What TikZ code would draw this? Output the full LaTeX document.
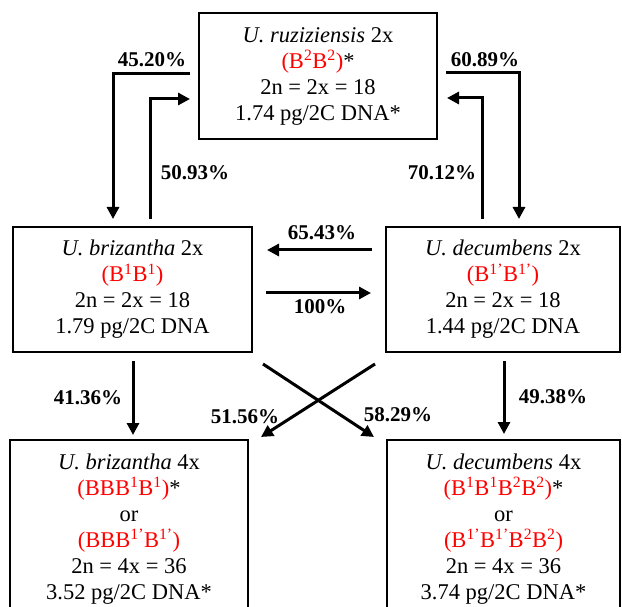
\documentclass[tikz,border=0pt]{standalone}
\usepackage{fontspec}
\setmainfont{Liberation Serif}
\usetikzlibrary{arrows.meta,calc}
\definecolor{gred}{RGB}{255,0,0}
\newcommand{\rd}[1]{\textcolor{gred}{#1}}
\newcommand{\sps}[1]{\textsuperscript{#1}}
\tikzset{
  box/.style={draw, line width=2pt, align=center, inner sep=0pt,
    font=\fontsize{22.5}{26}\selectfont},
  arr/.style={line width=3pt, -{Triangle[length=12pt,width=12pt]}},
  pct/.style={font=\fontsize{21}{24}\selectfont\bfseries, inner sep=0pt}
}
\begin{document}
\begin{tikzpicture}[x=1pt,y=-1pt]
\useasboundingbox (0,0) rectangle (622,607);
\clip (0,0) rectangle (622,607);
% boxes
\node[box, minimum width=238, minimum height=126] (top) at (318,76)
  {\textit{U. ruziziensis} 2x\\ \rd{(B\sps{2}B\sps{2})}*\\ 2n = 2x = 18\\ 1.74 pg/2C DNA*};
\node[box, minimum width=239, minimum height=125] (ml) at (132.5,289.5)
  {\textit{U. brizantha} 2x\\ \rd{(B\sps{1}B\sps{1})}\\ 2n = 2x = 18\\ 1.79 pg/2C DNA};
\node[box, minimum width=234, minimum height=125] (mr) at (503,289.5)
  {\textit{U. decumbens} 2x\\ \rd{(B\sps{1'}B\sps{1'})}\\ 2n = 2x = 18\\ 1.44 pg/2C DNA};
\node[box, minimum width=238, minimum height=178] (bl) at (129,529)
  {\textit{U. brizantha} 4x\\ \rd{(BBB\sps{1}B\sps{1})}*\\ or\\ \rd{(BBB\sps{1'}B\sps{1'})}\\ 2n = 4x = 36\\ 3.52 pg/2C DNA*};
\node[box, minimum width=233, minimum height=178] (br) at (503.5,529)
  {\textit{U. decumbens} 4x\\ \rd{(B\sps{1}B\sps{1}B\sps{2}B\sps{2})}*\\ or\\ \rd{(B\sps{1'}B\sps{1'}B\sps{2}B\sps{2})}\\ 2n = 4x = 36\\ 3.74 pg/2C DNA*};
% elbow arrows
\draw[arr] ($(top.north west)+(-8,62)$) -| ($(ml.north west)+(101,-7)$);
\draw[arr] ($(ml.north west)+(138,-7)$) |- ($(top.north west)+(-8,87)$);
\draw[arr] ($(top.north east)+(8,61)$) -| ($(mr.north west)+(134,-7)$);
\draw[arr] ($(mr.north west)+(97,-7)$) |- ($(top.north east)+(9,86)$);
% horizontal arrows
\draw[arr] ($(mr.west)+(-13,-39.5)$) -- ($(ml.east)+(14,-39.5)$);
\draw[arr] ($(ml.east)+(13,3.5)$) -- ($(mr.west)+(-14,3.5)$);
% vertical arrows
\draw[arr] ($(ml.south)+(0.5,8)$) -- ($(bl.north)+(4,-4)$);
\draw[arr] ($(mr.south)+(1,8)$) -- ($(br.north)+(0.5,-5)$);
% crossing arrows
\draw[arr] ($(ml.south east)+(10,11)$) -- ($(br.north west)+(-12,-2)$);
\draw[arr] ($(mr.south west)+(-10,11)$) -- ($(bl.north east)+(12,-2)$);
% labels
\node[pct] (l1) at (152,60) {45.20\%};
\node[pct] (l2) at (485,60) {60.89\%};
\node[pct] (l3) at (195,173) {50.93\%};
\node[pct] (l4) at (442,173) {70.12\%};
\node[pct] (l5) at (322,233) {65.43\%};
\node[pct] (l6) at (320,307) {100\%};
\node[pct] (l7) at (88,398) {41.36\%};
\node[pct] (l8) at (553,397) {49.38\%};
\node[pct] (l9) at (245,417) {51.56\%};
\node[pct] (l10) at (398,415) {58.29\%};
\end{tikzpicture}
\end{document}
